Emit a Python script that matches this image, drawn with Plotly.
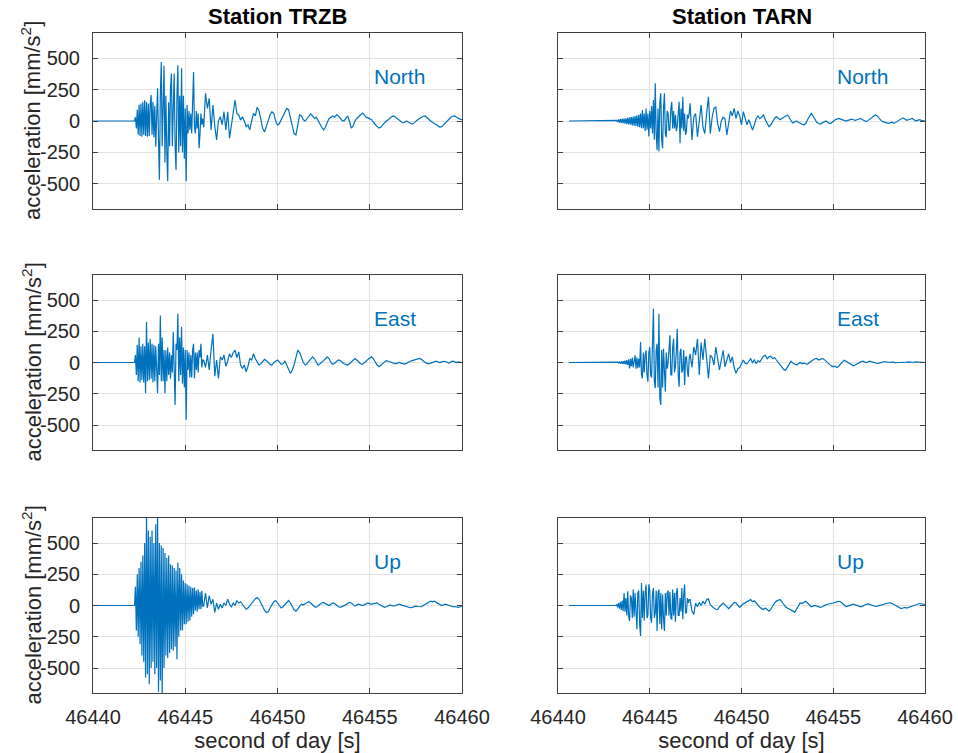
import numpy as np
import plotly.graph_objects as go

# ---------------- data ----------------
# Each record: quiet pre-event part (flat 0), a strong-motion part sampled at
# 0.05 s starting at the onset, then the coda sampled at 0.1 s.
DENSE_DT = 0.05
CODA_DT = 0.1

TRZB_START, TRZB_ONSET, TRZB_CODA = 46440.0, 46442.3, 46446.0
TARN_START, TARN_ONSET, TARN_CODA = 46440.6, 46443.2, 46447.2

stations = ["Station TRZB", "Station TARN"]
components = ["North", "East", "Up"]
x_ticks = [46440, 46445, 46450, 46455, 46460]
y_ticks = [-500, -250, 0, 250, 500]

# ---- TRZB North ----
trzb_north_strong = [          # 46442.30 .. 46445.95, one row per 0.5 s
    30, -60, 90, -110, 130, -120, 140, -125, 150, -110,
    165, -120, 150, -125, 140, -120, 130, 206, -110, 150,
    -130, 120, -204, 100, 260, -150, -468, 200, 470, -200,
    150, 440, -330, 200, -250, -480, 150, -200, 250, 378,
    -200, 150, 378, -200, -390, 200, 444, -250, 200, -200,
    420, -250, 200, -300, 100, -480, 127, -100, 80, -71,
    60, -100, 200, 390, -50, -100, 80, -60, 60, -217,
    -100, 60, -30, 20,
]
trzb_north_coda = [            # 46446.0 .. 46460.0, one row per second
    -50, 220, 100, 180, -71, 127, -40, -150, 0, 34,
    -30, 74, -71, 74, -137, -40, 60, 167, 60, 48,
    8, 34, 0, -45, -30, -71, 0, 61, 40, 110,
    80, 0, -60, -87, -40, 10, 50, 74, 60, 0,
    -32, -20, 10, 50, 80, 100, 90, 30, -50, -100,
    -111, -30, 48, 40, 10, 0, 20, 40, 56, 40,
    20, 30, 0, -20, -50, -71, -50, -10, 20, 30,
    40, 30, 50, 40, 20, 5, 0, 25, 40, 0,
    -56, -40, 0, 20, 35, 50, 63, 50, 30, 25,
    20, 10, -10, -30, -45, -56, -50, -30, -10, 0,
    10, 25, 35, 40, 30, 20, 5, -5, -15, -10,
    0, -10, -20, -25, -15, 0, 10, 20, 30, 38,
    40, 25, 10, 0, -10, -20, -30, -40, -48, -45,
    -30, -10, 5, 20, 30, 38, 40, 30, 20, 15,
    10,
]

# ---- TRZB East ----
trzb_east_strong = [
    60, -100, 140, -150, 200, -160, 130, -140, 150, -160,
    130, -246, 323, -150, 160, -140, 190, -130, 150, -160,
    140, -150, 130, -120, -246, 150, -100, 376, -150, 200,
    -150, 100, -246, 98, -150, 120, -100, 80, -130, 60,
    -80, 243, -100, -339, 150, 100, 389, -150, 200, -100,
    283, -170, 120, -200, 100, -458, 100, -60, 80, -120,
    60, -120, 100, 150, -127, 80, -60, 80, -80, 100,
    40, 150, -40, 20,
]
trzb_east_coda = [
    20, -40, 60, -60, 100, 230, -110, 20, -127, 45,
    20, 60, -30, 10, 70, 40, 80, 98, 40, 85,
    -20, -48, -20, -74, -30, 32, 20, 70, 30, 0,
    -21, -10, 10, 25, 15, 0, -15, -21, 0, 10,
    20, 5, -15, -10, 10, -20, -60, -87, -60, -20,
    40, 98, 80, 30, 0, -20, -10, 10, 30, 45,
    30, 0, -21, -10, 0, 15, 30, 45, 30, 0,
    -15, -5, 10, 20, 15, 0, -10, -15, -20, -10,
    5, 20, 32, 20, 0, -10, -15, -5, 10, 25,
    35, 45, 30, 0, -20, -34, -20, -5, 5, 15,
    10, 5, 0, -5, -10, -5, 0, -5, -10, -12,
    -5, 5, 10, 15, 20, 25, 30, 32, 25, 10,
    0, -5, -10, -5, 0, 5, 10, 5, 0, 5,
    10, 8, 0, -5, 5, 10, 5, 0, 5, 2,
    0,
]

# ---- TRZB Up ----
trzb_up_strong = [
    150, -200, 250, -250, 300, -310, 350, -400, 400, -450,
    500, -576, 750, -550, 600, -630, 550, -500, 600, -450,
    500, -550, 650, -500, 750, -690, 500, -600, 480, -750,
    460, -500, 420, -400, 380, -420, 400, -380, 330, -350,
    320, -360, 300, -330, 280, -430, 344, -250, 300, -200,
    250, -200, 200, -150, 180, -150, 170, -130, 160, -120,
    150, -90, 140, -70, 144, -40, 120, -50, 130, -30,
    110, -30, 117, -10,
]
trzb_up_coda = [
    0, 100, -20, 80, 10, 50, -56, 20, -30, 10,
    -20, 20, 0, 50, 10, -10, 20, 0, 40, 20,
    30, 10, -10, -30, -20, 0, 20, 40, 55, 64,
    50, 20, -10, -40, -56, -50, -20, 10, 30, 40,
    20, 0, -20, -10, 10, 30, 40, 20, -10, -35,
    -45, -30, -5, 10, 5, 15, 25, 30, 20, 0,
    -10, -15, 0, 10, 20, 25, 15, 5, 0, 10,
    20, 15, 0, -10, -15, -10, -5, 5, 15, 25,
    20, 5, -5, 5, 10, 5, 0, 5, 15, 20,
    15, 10, 15, 20, 20, 10, 0, -10, -15, -10,
    0, 5, 0, -5, 0, 5, 10, 5, 0, -5,
    -10, -15, -18, -15, -10, -5, -8, -12, -10, 0,
    10, 20, 30, 35, 30, 35, 25, 15, 5, 0,
    5, 10, 5, 0, -5, -10, -8, -12, -15, -10,
    -5,
]

# ---- TARN North ----
tarn_north_strong = [          # 46443.20 .. 46447.15
    5, -8, 12, -12, 15, -15, 18, -18, 20, -22,
    22, -25, 25, -28, 30, -30, 32, -35, 35, -38,
    40, -40, 45, -45, 50, -50, 60, -58, 87, -60,
    60, -80, 100, -70, 60, -124, 80, -60, 120, -100,
    167, -150, 300, -100, -230, 100, -243, 150, 220, -150,
    -217, 100, 220, -100, -130, 80, 60, -80, -60, 100,
    153, -60, 80, -60, 50, -80, -40, 60, 153, -177,
    100, -60, 193, -80, 60, -110, -80, 50, 20, 60,
]
tarn_north_coda = [            # 46447.2 .. 46460.0
    140, -150, 30, 60, -124, 0, 127, -50,
    -100, 60, 193, -100, 30, 100, 110, -20, -85, 0,
    30, 20, -111, -20, 80, 40, 100, 20, 80, 40,
    -30, 74, 10, -30, 10, -40, -71, -30, 20, 40,
    20, 30, 48, 10, -20, -45, -30, 0, 20, 35,
    20, 10, 20, 30, 40, 48, 30, 0, -15, -10,
    0, -10, -20, -25, -32, -20, 10, 40, 61, 40,
    10, -10, -20, -25, -15, -5, 0, -10, -20, -15,
    0, 10, 15, 20, 15, 10, 5, 0, 5, 10,
    15, 10, 5, 10, 15, 20, 10, 0, -5, 5,
    15, 25, 35, 48, 40, 20, 5, -5, -10, -15,
    -19, -15, -10, -19, -10, 0, 10, 20, 25, 15,
    5, 10, 15, 20, 10, 0, 5, 10, 5, 0,
    0,
]

# ---- TARN East ----
tarn_east_strong = [
    0, 3, -5, 5, -8, 8, -10, 10, -12, 15,
    -15, 18, -20, 25, -48, 30, -30, 40, -40, 35,
    58, -50, 40, -45, 30, -40, 164, -100, -127, 80,
    -80, 60, 98, -100, -153, 80, 124, -100, -120, 150,
    429, -150, -206, 100, 150, -200, 389, -286, -339, 100,
    -200, 110, -150, -233, 80, -50, 0, 100, 217, -100,
    -100, 120, 190, -80, -30, 100, 270, -100, -193, 80,
    110, -80, -60, 100, -180, 40, 45, -60, -115, 30,
]
tarn_east_coda = [
    70, -40, 124, 60, 190, -100, 160, 20,
    190, 30, -127, 60, 40, -20, 124, 30, -60, 20,
    98, -35, 30, 70, 0, 45, -40, -87, -50, -40,
    -10, 20, -5, -10, 10, 30, 0, 20, -10, 15,
    5, 30, 50, 58, 30, 45, 50, 30, 40, 20,
    0, -20, -40, -55, -61, -40, -10, 10, -5, -15,
    -20, -10, 0, -10, -5, -10, -15, 0, 10, 20,
    30, 32, 20, 25, 32, 25, 10, 0, -15, -25,
    -34, -30, -40, -30, -10, 5, 19, 10, 0, -10,
    -20, -26, -20, -10, 0, 5, 10, 5, 0, 5,
    10, 5, 0, -5, -8, -5, 0, 5, 8, 5,
    0, 0, 5, 0, -3, 0, 3, 0, 2, 0,
    3, 5, 3, 0, 2, 5, 3, 0, 2, 0,
    0,
]

# ---- TARN Up ----
tarn_up_strong = [
    10, -15, 20, -25, 30, -35, 40, -45, 100, -50,
    60, -80, 114, -90, -124, 80, 60, -100, 127, -90,
    100, -120, -190, 100, 120, -150, -243, 180, -100, 120,
    -120, 100, 167, -100, -80, 170, 120, -100, -138, 100,
    140, -100, -60, 120, -204, 100, 127, -150, 100, -190,
    87, -100, -204, 100, -80, 100, 120, -80, 110, -100,
    -111, 127, -80, 100, -130, 100, 140, -80, -80, 60,
    -50, 140, -110, 80, 167, -60, -60, 60, 20, 48,
]
tarn_up_coda = [
    48, -45, -71, 20, -10, 25, 0, 34,
    10, 48, 53, 5, -10, -20, -30, -32, -10, 10,
    20, 5, -15, -25, -10, 10, 25, 20, 0, -15,
    0, 15, 21, 30, 40, 48, 30, 38, 20, 0,
    -15, -25, -32, -20, -30, -45, -30, 0, 20, 35,
    45, 48, 30, 5, -10, -20, -30, -40, -50, -53,
    -30, 0, 21, 15, 25, 34, 20, 0, -10, -5,
    0, -5, -12, -15, -10, 0, 5, 10, 12, 15,
    20, 25, 30, 34, 30, 15, 0, -8, -5, 0,
    5, 10, 5, 0, -5, -10, -5, 5, 10, 13,
    8, 0, -5, -8, -5, 0, 5, 10, 15, 18,
    20, 21, 18, 10, 0, -10, -18, -24, -20, -15,
    -20, -15, -5, 0, 5, 10, 15, 16, 14, 10,
    8,
]


def record(start, onset, coda_start, strong, coda):
    t = ([start, onset - DENSE_DT]
         + list(onset + DENSE_DT * np.arange(len(strong)))
         + list(coda_start + CODA_DT * np.arange(len(coda))))
    a = [0, 0] + list(strong) + list(coda)
    return t, a


# ---------------- figure ----------------
W, H = 958, 753
FONT = "Liberation Sans, Arial, Helvetica, sans-serif"
LINE_BLUE = "#0072BD"
AX_COL = "#404040"
GRID_COL = "#e3e3e3"
TXT_COL = "#262626"

col_px = [(93, 462), (558, 925)]
row_px = [(33, 209), (275, 450), (518, 693)]

panels = [
    (0, 0, record(TRZB_START, TRZB_ONSET, TRZB_CODA, trzb_north_strong, trzb_north_coda)),
    (0, 1, record(TARN_START, TARN_ONSET, TARN_CODA, tarn_north_strong, tarn_north_coda)),
    (1, 0, record(TRZB_START, TRZB_ONSET, TRZB_CODA, trzb_east_strong, trzb_east_coda)),
    (1, 1, record(TARN_START, TARN_ONSET, TARN_CODA, tarn_east_strong, tarn_east_coda)),
    (2, 0, record(TRZB_START, TRZB_ONSET, TRZB_CODA, trzb_up_strong, trzb_up_coda)),
    (2, 1, record(TARN_START, TARN_ONSET, TARN_CODA, tarn_up_strong, tarn_up_coda)),
]

fig = go.Figure()
layout = dict(
    width=W, height=H, autosize=False,
    margin=dict(l=0, r=0, t=0, b=0),
    paper_bgcolor="white", plot_bgcolor="white",
    showlegend=False,
    font=dict(family=FONT, color=TXT_COL, size=20),
)
annotations = []

for k, (r, c, (t, a)) in enumerate(panels, start=1):
    xa = "x" if k == 1 else f"x{k}"
    ya = "y" if k == 1 else f"y{k}"
    fig.add_trace(go.Scatter(
        x=t, y=a, mode="lines", xaxis=xa, yaxis=ya,
        line=dict(color=LINE_BLUE, width=1.2), hoverinfo="skip",
    ))
    x0, x1 = col_px[c]
    yt, yb = row_px[r]
    common = dict(
        showline=True, linecolor=AX_COL, linewidth=1, mirror="ticks",
        ticks="inside", ticklen=5, tickwidth=1, tickcolor=AX_COL,
        showgrid=True, gridcolor=GRID_COL, gridwidth=1,
        zeroline=False, automargin=False,
        tickfont=dict(family=FONT, size=20, color=TXT_COL),
    )
    xaxis = dict(
        common, domain=[x0 / W, x1 / W], range=[46440, 46460],
        tickvals=x_ticks, ticktext=[str(v) for v in x_ticks],
        anchor=ya, showticklabels=(r == 2), ticklabelstandoff=6,
    )
    if r == 2:
        xaxis["title"] = dict(text="second of day [s]", standoff=10,
                              font=dict(family=FONT, size=22, color=TXT_COL))
    yaxis = dict(
        common, domain=[1 - yb / H, 1 - yt / H], range=[-700, 700],
        tickvals=y_ticks, ticktext=[str(v) for v in y_ticks],
        anchor=xa, showticklabels=(c == 0), ticklabelstandoff=8,
    )
    layout["xaxis" if k == 1 else f"xaxis{k}"] = xaxis
    layout["yaxis" if k == 1 else f"yaxis{k}"] = yaxis

    if c == 0:
        annotations.append(dict(
            x=31 / W, y=1 - ((yt + yb) / 2) / H, xref="paper", yref="paper",
            text="acceleration [mm/s<sup>2</sup>]", textangle=-90,
            showarrow=False, xanchor="center", yanchor="middle",
            font=dict(family=FONT, size=22, color=TXT_COL),
        ))

    annotations.append(dict(
        x=46455.1, y=350, xref=xa, yref=ya, text=components[r],
        showarrow=False, xanchor="left", yanchor="middle",
        font=dict(family=FONT, size=21, color=LINE_BLUE),
    ))

for c, name in enumerate(stations):
    x0, x1 = col_px[c]
    annotations.append(dict(
        x=(x0 + x1) / 2 / W, y=1 - 17 / H, xref="paper", yref="paper",
        text=f"<b>{name}</b>", showarrow=False,
        xanchor="center", yanchor="middle",
        font=dict(family=FONT, size=22, color="#000000"),
    ))

layout["annotations"] = annotations
fig.update_layout(**layout)
fig.write_html("out.html", config={"displayModeBar": False},
               post_script="document.body.style.margin='0px';")
